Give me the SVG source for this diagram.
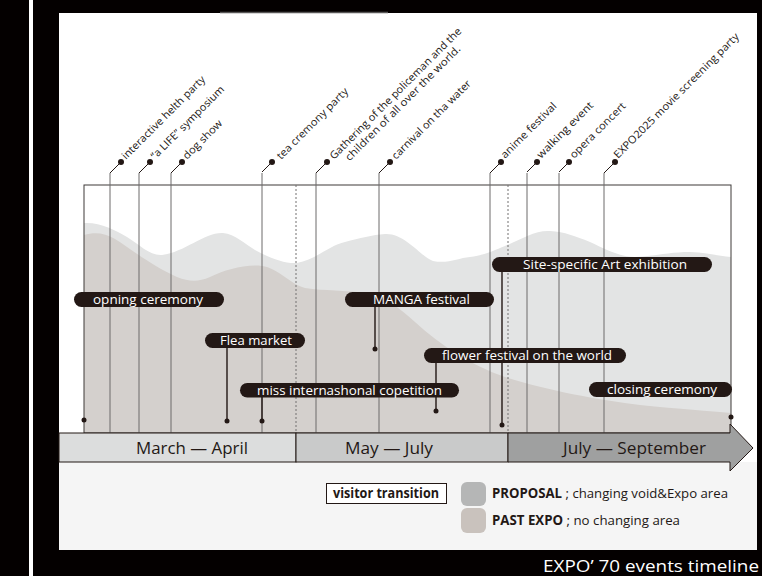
<svg xmlns="http://www.w3.org/2000/svg" width="762" height="576" viewBox="0 0 762 576">
<style>
.top{font-family:"Open Sans","Noto Sans",sans-serif;font-size:10.5px;fill:#231815}
.pill{fill:#231815}
.pt{font-family:"Open Sans","Noto Sans",sans-serif;font-size:12.5px;fill:#ffffff}
.vl{stroke:#6d6b6a;stroke-width:1;fill:none}
.ld{stroke:#231815;stroke-width:1;fill:none}
.st{stroke:#231815;stroke-width:1.4;fill:none}
.dot{fill:#231815}
.bar{font-family:"Open Sans","Noto Sans",sans-serif;font-size:15.5px;fill:#231815}
.lg{font-family:"Open Sans","Noto Sans",sans-serif;font-size:13.5px;fill:#231815}
</style>
<rect x="0" y="0" width="762" height="576" fill="#040000"/>
<rect x="29" y="0" width="4" height="576" fill="#ffffff"/>
<rect x="59" y="13" width="698" height="537" fill="#ffffff"/>
<rect x="59" y="462" width="698" height="88" fill="#f5f5f5"/>
<line x1="220" y1="12.5" x2="388" y2="12.5" stroke="#595757" stroke-width="1.5"/>

<g id="areas">
<path d="M84,223 C100,222 115,230 127,237 C140,245 150,256 162,255 C185,252 205,232 223,233 C235,234 245,244 255,250 C270,258 285,264 297,263 C315,260 330,245 345,242 C360,238 372,235 385,234 C405,233 420,256 433,261 C448,264 458,258 470,257 C485,255 495,250 505,246 C520,240 535,230 550,231 C565,232 575,236 590,242 C605,249 620,257 635,257 C655,256 670,252 690,252 C705,252 718,256 731,257 L731,433 L84,433 Z" fill="#e3e4e4"/>
<path d="M84,235 C95,232 105,233 115,239 C130,248 150,265 177,277 C190,282 198,282 210,277 C225,270 245,264 262,266 C278,268 290,284 305,288 C325,291 345,290 365,293 C385,297 400,308 415,322 C440,345 470,365 505,377 C545,390 600,400 640,405 C680,409 710,411 731,413 L731,433 L84,433 Z" fill="#d4d0cd"/>
</g>

<g id="frame">
<rect x="84" y="185" width="647" height="248" fill="none" stroke="#3e3a39" stroke-width="1"/>
<line x1="296" y1="185" x2="296" y2="433" stroke="#727171" stroke-width="1" stroke-dasharray="2,2"/>
<line x1="508" y1="185" x2="508" y2="433" stroke="#727171" stroke-width="1" stroke-dasharray="2,2"/>
</g>

<g id="connectors">
<path class="vl" d="M110,173 V433 M139,173 V433 M171,173 V433 M262,173 V433 M316,173 V433 M379,173 V433 M490,173 V433 M527,173 V433 M559,173 V433 M604,173 V433"/>
<path class="ld" d="M121,162 L110,173 M150,162 L139,173 M182,162 L171,173 M272,162 L262,172 M327,162 L316,173 M390,162 L379,173 M501,162 L490,173 M537,162 L527,172 M569,162 L559,172 M615,162 L604,173"/>
<path class="st" d="M227,348 V421 M262,397 V421 M375,307 V349 M502,272 V425 M436,363 V411"/>
<g class="dot">
<circle cx="84" cy="420" r="2.5"/><circle cx="227" cy="421" r="2.5"/><circle cx="262" cy="421" r="2.5"/><circle cx="375" cy="349" r="2.5"/><circle cx="502" cy="425" r="2.5"/><circle cx="436" cy="411" r="2.5"/><circle cx="731" cy="417" r="2.5"/>
</g>
</g>

<g id="ev-interactive"><circle class="dot" cx="121" cy="162" r="3"/><text class="top" transform="translate(126,160) rotate(-45)" textLength="113" lengthAdjust="spacingAndGlyphs">interactive helth party</text></g>
<g id="ev-alife"><circle class="dot" cx="150" cy="162" r="3"/><text class="top" transform="translate(155,160) rotate(-45)" textLength="99" lengthAdjust="spacingAndGlyphs">“a LIFE”  symposium</text></g>
<g id="ev-dogshow"><circle class="dot" cx="182" cy="162" r="3"/><text class="top" transform="translate(187,160) rotate(-45)" textLength="51" lengthAdjust="spacingAndGlyphs">dog show</text></g>
<g id="ev-tea"><circle class="dot" cx="272" cy="162" r="3"/><text class="top" transform="translate(281,160) rotate(-45)" textLength="96" lengthAdjust="spacingAndGlyphs">tea cremony party</text></g>
<g id="ev-gathering"><circle class="dot" cx="327" cy="162" r="3"/><text class="top" transform="translate(334,160) rotate(-45)"><tspan x="0" y="0" textLength="181" lengthAdjust="spacingAndGlyphs">Gathering of the policeman and the</tspan><tspan x="10" y="12" textLength="158" lengthAdjust="spacingAndGlyphs">children of all over the world.</tspan></text></g>
<g id="ev-carnival"><circle class="dot" cx="390" cy="162" r="3"/><text class="top" transform="translate(396,160) rotate(-45)" textLength="107" lengthAdjust="spacingAndGlyphs">carnival on tha water</text></g>
<g id="ev-anime"><circle class="dot" cx="501" cy="162" r="3"/><text class="top" transform="translate(505,159) rotate(-45)" textLength="74" lengthAdjust="spacingAndGlyphs">anime festival</text></g>
<g id="ev-walking"><circle class="dot" cx="537" cy="162" r="3"/><text class="top" transform="translate(541,159) rotate(-45)" textLength="75" lengthAdjust="spacingAndGlyphs">walking event</text></g>
<g id="ev-opera"><circle class="dot" cx="569" cy="162" r="3"/><text class="top" transform="translate(574,159) rotate(-45)" textLength="74" lengthAdjust="spacingAndGlyphs">opera concert</text></g>
<g id="ev-expo2025"><circle class="dot" cx="615" cy="162" r="3"/><text class="top" transform="translate(618,159) rotate(-45)" textLength="172" lengthAdjust="spacingAndGlyphs">EXPO2025 movie screening party</text></g>

<g id="ev-opening"><rect class="pill" x="74" y="292" width="150" height="15" rx="7.5"/><text class="pt" x="93" y="304" textLength="110" lengthAdjust="spacingAndGlyphs">opning ceremony</text></g>
<g id="ev-flea"><rect class="pill" x="205" y="333" width="100" height="15" rx="7.5"/><text class="pt" x="220" y="345" textLength="72" lengthAdjust="spacingAndGlyphs">Flea market</text></g>
<g id="ev-miss"><rect class="pill" x="240" y="383" width="219" height="14.5" rx="7.25"/><text class="pt" x="257" y="395" textLength="185" lengthAdjust="spacingAndGlyphs">miss internashonal copetition</text></g>
<g id="ev-manga"><rect class="pill" x="345" y="292" width="149" height="15" rx="7.5"/><text class="pt" x="373" y="304" textLength="97" lengthAdjust="spacingAndGlyphs">MANGA festival</text></g>
<g id="ev-siteart"><rect class="pill" x="492" y="257" width="220" height="15" rx="7.5"/><text class="pt" x="523" y="269" textLength="164" lengthAdjust="spacingAndGlyphs">Site-specific Art exhibition</text></g>
<g id="ev-flower"><rect class="pill" x="424" y="348" width="202" height="15" rx="7.5"/><text class="pt" x="442" y="360" textLength="170" lengthAdjust="spacingAndGlyphs">flower festival on the world</text></g>
<g id="ev-closing"><rect class="pill" x="589" y="382" width="143" height="15" rx="7.5"/><text class="pt" x="607" y="394" textLength="110" lengthAdjust="spacingAndGlyphs">closing ceremony</text></g>

<g id="period-bar">
<rect x="59" y="433" width="237" height="29" fill="#dcdddd" stroke="#231815" stroke-width="1"/>
<rect x="296" y="433" width="212" height="29" fill="#c9caca" stroke="#231815" stroke-width="1"/>
<path d="M508,433 L730,433 L730,424 L753,448 L730,471 L730,462 L508,462 Z" fill="#9fa0a0" stroke="#231815" stroke-width="1"/>
<text class="bar" x="136" y="454" textLength="112" lengthAdjust="spacingAndGlyphs">March — April</text>
<text class="bar" x="345" y="454" textLength="88" lengthAdjust="spacingAndGlyphs">May — July</text>
<text class="bar" x="563" y="454" textLength="143" lengthAdjust="spacingAndGlyphs">July — September</text>
</g>

<g id="legend">
<rect x="326.5" y="483.5" width="120" height="20" fill="#ffffff" stroke="#231815" stroke-width="1"/>
<text class="lg" x="333" y="498" font-weight="bold" font-size="12.5" textLength="106" lengthAdjust="spacingAndGlyphs">visitor transition</text>
<rect x="461" y="482" width="25" height="24" rx="6" fill="#b5b6b6"/>
<rect x="461" y="508" width="25" height="25" rx="6" fill="#c9c2bd"/>
<text class="lg" x="492" y="498" textLength="236" lengthAdjust="spacingAndGlyphs"><tspan font-weight="bold">PROPOSAL</tspan> ; changing void&amp;Expo area</text>
<text class="lg" x="492" y="525" textLength="188" lengthAdjust="spacingAndGlyphs"><tspan font-weight="bold">PAST EXPO</tspan> ; no changing area</text>
</g>

<text x="543" y="572" font-family="'Open Sans','Noto Sans',sans-serif" font-size="16" fill="#ffffff" textLength="216" lengthAdjust="spacingAndGlyphs">EXPO’ 70 events timeline</text>
</svg>
